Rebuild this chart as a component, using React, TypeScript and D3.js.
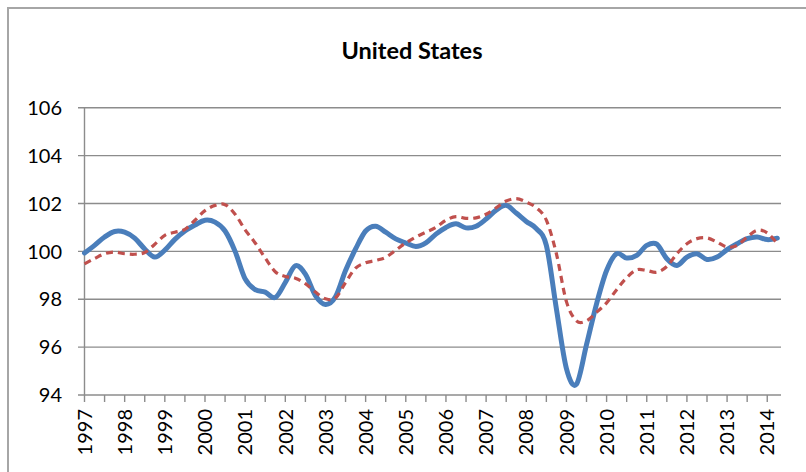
import React, { useEffect, useRef } from "react";
import * as d3 from "d3";

// quarterly, 1997Q1 .. 2014Q2
const firstYear = 1997;
const quarterCount = 70;

const actual = [
  99.93, 100.25, 100.6, 100.83, 100.8, 100.55, 100.1, 99.76,
  100.05, 100.5, 100.85, 101.1, 101.3, 101.22, 100.85, 100.0,
  98.85, 98.4, 98.3, 98.07, 98.7, 99.4, 99.05, 98.15,
  97.78, 98.1, 99.2, 100.1, 100.85, 101.05, 100.8, 100.52,
  100.35, 100.2, 100.35, 100.72, 101.0, 101.15, 100.98, 101.05,
  101.35, 101.72, 101.92, 101.6, 101.25, 100.95, 100.25, 97.6,
  95.1, 94.45, 96.1, 97.81, 99.2, 99.9, 99.72, 99.83,
  100.25, 100.3, 99.69, 99.41, 99.76, 99.9, 99.66, 99.76,
  100.07, 100.32, 100.53, 100.6, 100.49, 100.55,
];

const trend = [
  99.48, 99.7, 99.9, 99.97, 99.9, 99.88, 99.95, 100.3,
  100.67, 100.8, 100.92, 101.3, 101.7, 101.92, 101.95, 101.55,
  100.9, 100.35, 99.72, 99.15, 98.95, 98.88, 98.65, 98.3,
  98.02, 98.05, 98.7, 99.3, 99.52, 99.62, 99.75, 100.05,
  100.35, 100.6, 100.8, 101.0, 101.3, 101.45, 101.38, 101.4,
  101.55, 101.82, 102.1, 102.2, 102.06, 101.82, 101.3, 99.9,
  97.9, 97.1, 97.1, 97.45, 97.85, 98.4, 98.9, 99.23,
  99.2, 99.13, 99.37, 99.9, 100.32, 100.53, 100.56, 100.39,
  100.18, 100.25, 100.6, 100.88, 100.77, 100.32,
];

const yTicks = [94, 96, 98, 100, 102, 104, 106];

const W = 806;
const H = 472;
const FONT = "Lato, 'Open Sans', sans-serif";

export default function App() {
  const ref = useRef<SVGSVGElement>(null);

  useEffect(() => {
    const svg = d3.select(ref.current);
    svg.selectAll("*").remove();

    const x = d3.scaleLinear().domain([0, 69.37]).range([84.5, 781]);
    const y = d3.scaleLinear().domain([94, 106]).range([395, 107.7]);

    // chart frame
    svg.append("rect")
      .attr("x", 8).attr("y", 8)
      .attr("width", 830).attr("height", 500)
      .attr("fill", "#fff")
      .attr("stroke", "#a6a6a6")
      .attr("stroke-width", 2);

    svg.append("text")
      .attr("x", 412).attr("y", 59)
      .attr("text-anchor", "middle")
      .style("font-family", FONT)
      .style("font-weight", "bold")
      .style("font-size", "23.5px")
      .attr("fill", "#000")
      .text("United States");

    const grid = svg.append("g");
    grid.selectAll("line")
      .data(yTicks)
      .join("line")
      .attr("x1", 78).attr("x2", 781)
      .attr("y1", (d) => y(d)).attr("y2", (d) => y(d))
      .attr("stroke", "#8c8c8c")
      .attr("stroke-width", 1.4);

    svg.append("g")
      .selectAll("text")
      .data(yTicks)
      .join("text")
      .attr("x", 62)
      .attr("y", (d) => y(d))
      .attr("dy", "0.36em")
      .attr("text-anchor", "end")
      .style("font-family", FONT)
      .style("font-size", "20px")
      .attr("fill", "#000")
      .text((d) => d);

    // axes
    svg.append("line")
      .attr("x1", x(0)).attr("x2", x(0))
      .attr("y1", y(106)).attr("y2", y(94))
      .attr("stroke", "#8c8c8c").attr("stroke-width", 1.4);

    const idx = d3.range(quarterCount);
    svg.append("g")
      .selectAll("line")
      .data(idx.filter((i) => i % 2 === 0))
      .join("line")
      .attr("x1", (i) => x(i)).attr("x2", (i) => x(i))
      .attr("y1", y(94)).attr("y2", y(94) + 7)
      .attr("stroke", "#8c8c8c").attr("stroke-width", 1.4);

    svg.append("g")
      .selectAll("text")
      .data(idx.filter((i) => i % 4 === 0))
      .join("text")
      .attr("transform", (i) => `translate(${x(i)},409) rotate(-90)`)
      .attr("dy", "0.36em")
      .attr("text-anchor", "end")
      .style("font-family", FONT)
      .style("font-size", "20px")
      .attr("fill", "#000")
      .text((i) => firstYear + i / 4);

    const line = (vals: number[]) =>
      d3.line<number>()
        .x((_, i) => x(i))
        .y((d) => y(d))
        .curve(d3.curveCardinal.tension(0))(vals);

    svg.append("path")
      .attr("d", line(actual))
      .attr("fill", "none")
      .attr("stroke", "#4a7ebb")
      .attr("stroke-width", 5)
      .attr("stroke-linejoin", "round")
      .attr("stroke-linecap", "round");

    svg.append("path")
      .attr("d", line(trend))
      .attr("fill", "none")
      .attr("stroke", "#c0504d")
      .attr("stroke-width", 3.2)
      .attr("stroke-dasharray", "7,5");
  }, []);

  return (
    <svg
      ref={ref}
      width={W}
      height={H}
      style={{ position: "absolute", left: 0, top: 0, background: "#fff" }}
    />
  );
}
